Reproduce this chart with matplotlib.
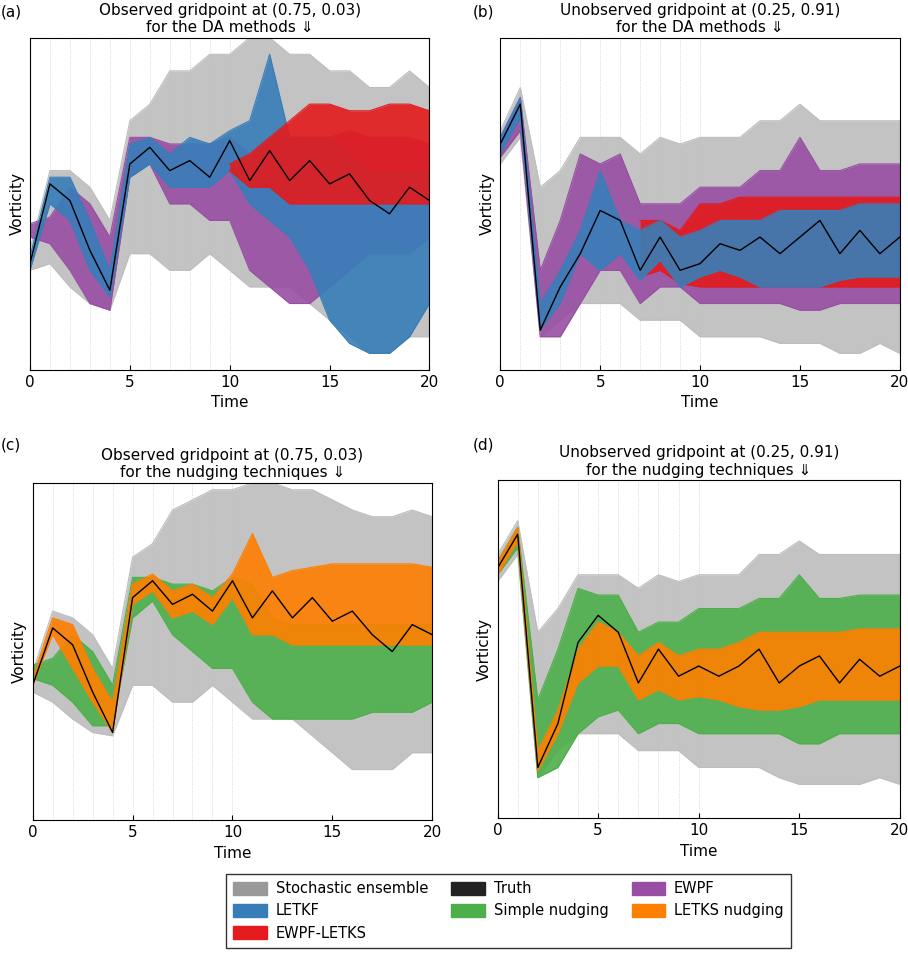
import numpy as np
import matplotlib
matplotlib.use("Agg")
import matplotlib.pyplot as plt
from matplotlib.patches import Patch

t = np.arange(0, 21)
nan = np.nan

# panel (a)
a_truth = [0.32,0.56,0.51,0.36,0.24,0.62,0.67,0.60,0.63,0.58,0.69,0.57,0.66,0.57,0.63,0.56,0.59,0.51,0.47,0.55,0.51]
a_gray_lo = [0.30,0.32,0.25,0.20,0.18,0.35,0.35,0.30,0.30,0.35,0.30,0.25,0.25,0.25,0.20,0.15,0.10,0.05,0.05,0.10,0.10]
a_gray_hi = [0.36,0.60,0.60,0.55,0.45,0.75,0.80,0.90,0.90,0.95,0.95,1.00,1.00,0.95,0.95,0.90,0.90,0.85,0.85,0.90,0.85]
a_purple_lo = [0.40,0.38,0.30,0.20,0.18,0.58,0.62,0.50,0.50,0.45,0.45,0.30,0.25,0.20,0.20,0.25,0.30,0.35,0.35,0.35,0.40]
a_purple_hi = [0.44,0.46,0.55,0.50,0.40,0.70,0.70,0.68,0.68,0.68,0.70,0.65,0.70,0.70,0.70,0.70,0.72,0.70,0.70,0.70,0.68]
a_blue_lo = [0.30,0.50,0.45,0.30,0.22,0.58,0.62,0.55,0.55,0.55,0.60,0.50,0.45,0.40,0.30,0.15,0.08,0.05,0.05,0.10,0.20]
a_blue_hi = [0.34,0.58,0.58,0.45,0.30,0.68,0.70,0.65,0.70,0.68,0.72,0.75,0.95,0.70,0.70,0.70,0.65,0.60,0.60,0.60,0.60]
a_red_lo = [nan]*10 + [0.60,0.55,0.55,0.50,0.50,0.50,0.50,0.50,0.50,0.50,0.50]
a_red_hi = [nan]*10 + [0.62,0.65,0.70,0.75,0.80,0.80,0.78,0.78,0.80,0.80,0.78]

# panel (b)
b_truth = [0.68,0.80,0.12,0.25,0.35,0.48,0.45,0.30,0.40,0.30,0.32,0.38,0.36,0.40,0.35,0.40,0.45,0.35,0.42,0.35,0.40]
b_gray_lo = [0.62,0.70,0.10,0.15,0.20,0.20,0.20,0.15,0.15,0.15,0.10,0.10,0.10,0.10,0.08,0.08,0.08,0.05,0.05,0.08,0.05]
b_gray_hi = [0.72,0.85,0.55,0.60,0.70,0.70,0.70,0.65,0.70,0.68,0.70,0.70,0.70,0.75,0.75,0.80,0.75,0.75,0.75,0.75,0.75]
b_purple_lo = [0.64,0.72,0.10,0.10,0.20,0.30,0.30,0.20,0.25,0.25,0.20,0.20,0.20,0.20,0.20,0.18,0.18,0.20,0.20,0.20,0.20]
b_purple_hi = [0.70,0.82,0.30,0.45,0.65,0.62,0.65,0.50,0.50,0.50,0.55,0.55,0.55,0.60,0.60,0.70,0.60,0.60,0.62,0.62,0.62]
b_blue_lo = [0.65,0.76,0.12,0.20,0.35,0.30,0.35,0.27,0.33,0.25,0.28,0.30,0.28,0.25,0.25,0.25,0.25,0.27,0.28,0.28,0.28]
b_blue_hi = [0.70,0.82,0.20,0.30,0.42,0.60,0.45,0.42,0.45,0.40,0.42,0.45,0.45,0.45,0.48,0.48,0.48,0.48,0.50,0.50,0.50]
b_red_lo = [nan]*7 + [0.28,0.30,0.26,0.25,0.25,0.25,0.25,0.25,0.25,0.25,0.25,0.25,0.25,0.25]
b_red_hi = [nan]*7 + [0.45,0.45,0.42,0.50,0.50,0.52,0.52,0.52,0.52,0.52,0.52,0.52,0.52,0.52]

# panel (c)
c_truth = [0.40,0.57,0.52,0.38,0.26,0.66,0.71,0.64,0.67,0.62,0.71,0.60,0.68,0.60,0.66,0.59,0.62,0.55,0.50,0.58,0.55]
c_gray_lo = [0.38,0.35,0.30,0.26,0.25,0.40,0.40,0.35,0.35,0.40,0.35,0.30,0.30,0.30,0.25,0.20,0.15,0.15,0.15,0.20,0.20]
c_gray_hi = [0.44,0.62,0.60,0.55,0.45,0.78,0.82,0.92,0.95,0.98,0.98,1.00,1.00,0.98,0.98,0.95,0.92,0.90,0.90,0.92,0.90]
c_green_lo = [0.42,0.40,0.35,0.28,0.28,0.60,0.65,0.55,0.50,0.45,0.45,0.35,0.30,0.30,0.30,0.30,0.30,0.32,0.32,0.32,0.35]
c_green_hi = [0.46,0.48,0.55,0.50,0.40,0.72,0.72,0.70,0.70,0.68,0.72,0.70,0.60,0.58,0.58,0.58,0.58,0.58,0.58,0.58,0.58]
c_orange_lo = [0.40,0.55,0.45,0.35,0.26,0.64,0.68,0.60,0.62,0.58,0.66,0.55,0.55,0.52,0.52,0.52,0.52,0.52,0.52,0.52,0.52]
c_orange_hi = [0.42,0.60,0.58,0.45,0.35,0.70,0.73,0.68,0.70,0.66,0.73,0.85,0.72,0.74,0.75,0.76,0.76,0.76,0.76,0.76,0.75]

# panel (d)
d_truth = [0.74,0.84,0.15,0.28,0.52,0.60,0.55,0.40,0.50,0.42,0.45,0.42,0.45,0.50,0.40,0.45,0.48,0.40,0.47,0.42,0.45]
d_gray_lo = [0.70,0.78,0.12,0.20,0.25,0.25,0.25,0.20,0.20,0.20,0.15,0.15,0.15,0.15,0.12,0.10,0.10,0.10,0.10,0.12,0.10]
d_gray_hi = [0.78,0.88,0.55,0.62,0.72,0.72,0.72,0.68,0.72,0.70,0.72,0.72,0.72,0.78,0.78,0.82,0.78,0.78,0.78,0.78,0.78]
d_green_lo = [0.72,0.80,0.12,0.15,0.25,0.30,0.32,0.25,0.28,0.28,0.25,0.25,0.25,0.25,0.25,0.22,0.22,0.25,0.25,0.25,0.25]
d_green_hi = [0.76,0.86,0.35,0.50,0.68,0.66,0.66,0.55,0.58,0.58,0.62,0.62,0.62,0.65,0.65,0.72,0.65,0.65,0.66,0.66,0.66]
d_orange_lo = [0.72,0.82,0.14,0.25,0.40,0.45,0.45,0.35,0.38,0.35,0.36,0.35,0.33,0.32,0.32,0.33,0.35,0.35,0.35,0.35,0.35]
d_orange_hi = [0.76,0.86,0.20,0.32,0.50,0.58,0.55,0.48,0.52,0.48,0.50,0.50,0.52,0.55,0.55,0.55,0.55,0.55,0.56,0.56,0.56]

C_GRAY = "#bdbdbd"; C_BLUE = "#377eb8"; C_RED = "#e41a1c"
C_PURPLE = "#984ea3"; C_GREEN = "#4daf4a"; C_ORANGE = "#ff7f00"

fig = plt.figure(figsize=(9.08, 9.66), dpi=100)

def panel(rect, label, lab_xy, title, truth, bands):
    ax = fig.add_axes(rect)
    for k in range(1, 11):
        ax.axvline(k, color="#cccccc", lw=0.6, ls=":", zorder=0)
    for lo, hi, c in bands:
        lo = np.array(lo, float); hi = np.array(hi, float)
        ax.fill_between(t, lo, hi, color=c, alpha=0.9, lw=0, zorder=1)
        ax.plot(t, lo, color=c, lw=0.8, zorder=1)
        ax.plot(t, hi, color=c, lw=0.8, zorder=1)
    ax.plot(t, truth, color="black", lw=1.0, zorder=3)
    ax.set_xlim(0, 20); ax.set_ylim(0, 1)
    ax.set_xticks([0, 5, 10, 15, 20])
    ax.set_yticks([])
    ax.set_xlabel("Time", fontsize=11)
    ax.set_ylabel("Vorticity", fontsize=11)
    ax.set_title(title, fontsize=11, pad=4)
    ax.tick_params(labelsize=11, direction="in")
    fig.text(lab_xy[0], lab_xy[1], label, fontsize=11, va="top")
    return ax

panel([0.033, 0.617, 0.44, 0.344], "(a)", (0.001, 0.995), "Observed gridpoint at (0.75, 0.03)\nfor the DA methods ⇓",
      a_truth, [(a_gray_lo, a_gray_hi, C_GRAY), (a_purple_lo, a_purple_hi, C_PURPLE),
                (a_blue_lo, a_blue_hi, C_BLUE), (a_red_lo, a_red_hi, C_RED)])
panel([0.551, 0.617, 0.44, 0.344], "(b)", (0.521, 0.995), "Unobserved gridpoint at (0.25, 0.91)\nfor the DA methods ⇓",
      b_truth, [(b_gray_lo, b_gray_hi, C_GRAY), (b_purple_lo, b_purple_hi, C_PURPLE),
                (b_red_lo, b_red_hi, C_RED), (b_blue_lo, b_blue_hi, C_BLUE)])
panel([0.036, 0.151, 0.44, 0.349], "(c)", (0.001, 0.547), "Observed gridpoint at (0.75, 0.03)\nfor the nudging techniques ⇓",
      c_truth, [(c_gray_lo, c_gray_hi, C_GRAY), (c_green_lo, c_green_hi, C_GREEN),
                (c_orange_lo, c_orange_hi, C_ORANGE)])
panel([0.548, 0.153, 0.443, 0.35], "(d)", (0.521, 0.547), "Unobserved gridpoint at (0.25, 0.91)\nfor the nudging techniques ⇓",
      d_truth, [(d_gray_lo, d_gray_hi, C_GRAY), (d_green_lo, d_green_hi, C_GREEN),
                (d_orange_lo, d_orange_hi, C_ORANGE)])

labels = ["Stochastic ensemble", "LETKF", "EWPF-LETKS", "Truth", "Simple nudging", "EWPF", "LETKS nudging"]
colors = ["#999999", C_BLUE, C_RED, "#222222", C_GREEN, C_PURPLE, C_ORANGE]
handles = [Patch(facecolor=c, edgecolor=c) for c in colors]
fig.legend(handles, labels, ncol=3, loc="center", bbox_to_anchor=(0.56, 0.057),
           fontsize=10.5, frameon=True, fancybox=False, edgecolor="black",
           handlelength=2.3, handleheight=1.0, columnspacing=1.6, borderpad=0.5,
           handletextpad=0.6)

fig.savefig("out.png", dpi=100)
